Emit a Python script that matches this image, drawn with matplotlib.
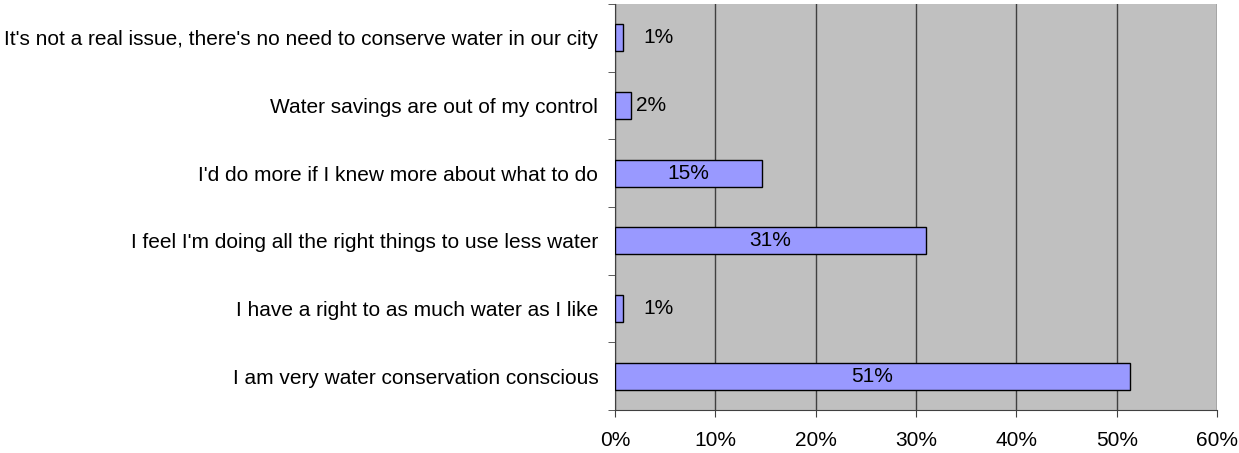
import numpy as np
import matplotlib.pyplot as plt
from matplotlib.ticker import FixedLocator, PercentFormatter

plt.rcParams['font.family'] = ['Liberation Sans', 'DejaVu Sans']

# Survey answers, listed top to bottom as in the chart
answers = ["It's not a real issue, there's no need to conserve water in our city",
           "Water savings are out of my control",
           "I'd do more if I knew more about what to do",
           "I feel I'm doing all the right things to use less water",
           "I have a right to as much water as I like",
           "I am very water conservation conscious"]
shares = [0.8, 1.6, 14.7, 31.0, 0.8, 51.3]
share_labels = ['1%', '2%', '15%', '31%', '1%', '51%']

FS = 15.0

fig = plt.figure(figsize=(12.39, 4.53), dpi=100)
ax = fig.add_axes([615/1239, 43/453, 602/1239, 406/453])
ax.set_facecolor('#C0C0C0')

ypos = np.arange(len(answers))
ax.barh(ypos, shares, height=0.4, color='#9999FF', edgecolor='black', linewidth=1, zorder=3)

ax.set_xlim(0, 60)
ax.set_ylim(len(answers) - 0.5, -0.5)
ax.xaxis.set_major_locator(FixedLocator(np.arange(0, 61, 10)))
ax.xaxis.set_major_formatter(PercentFormatter(decimals=0))
ax.grid(axis='x', color='#404040', linewidth=1, zorder=1)

ax.set_yticks(ypos)
ax.set_yticklabels(answers)
ax.yaxis.set_minor_locator(FixedLocator(np.arange(-0.5, len(answers), 1)))
ax.tick_params(axis='y', which='major', length=0, pad=12, labelsize=FS)
ax.tick_params(axis='y', which='minor', length=5, color='#404040', direction='out')
ax.tick_params(axis='x', length=5, color='#404040', direction='out', pad=10, labelsize=FS)

for s in ['top', 'right']:
    ax.spines[s].set_visible(False)
for s in ['left', 'bottom']:
    ax.spines[s].set_color('#404040')

# value labels: inside for long bars, just right of the bar for short ones
for y, v, lab in zip(ypos, shares, share_labels):
    if v > 5:
        ax.text(v / 2, y, lab, ha='center', va='center', fontsize=FS, zorder=4)
    else:
        pad = 20 if v < 1 else 5
        ax.annotate(lab, (v, y), xytext=(pad, 0), textcoords='offset pixels',
                    ha='left', va='center', fontsize=FS, zorder=4)

fig.savefig('out.png', dpi=100)
